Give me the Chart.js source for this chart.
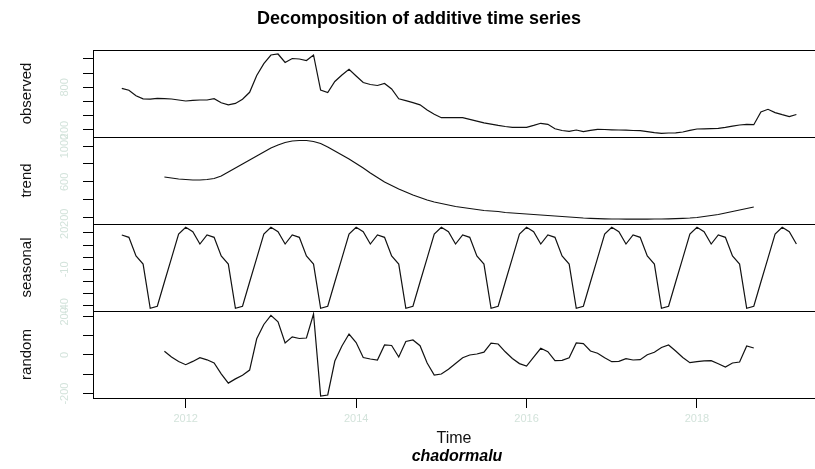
<!DOCTYPE html>
<html><head><meta charset="utf-8">
<script src="https://cdn.jsdelivr.net/npm/chart.js@4.4.0/dist/chart.umd.min.js"></script>
<style>html,body{margin:0;padding:0;background:#fff;overflow:hidden}</style>
</head><body>
<canvas id="c" width="815" height="469"></canvas>
<script>
// monthly series, April 2011 .. March 2019 (values in thousands)
const startYear = 2011, startMonth = 4;
const observed = [
787.3, 759.2, 681.7, 639.4, 635.2, 645.1, 640.8, 636.6, 622.5, 608.5, 616.9, 622.5,
622.5, 640.8, 583.1, 554.9, 574.6, 633.8, 731.0, 969.0, 1135.2, 1256.3, 1270.4, 1150.7,
1207.0, 1200.0, 1178.9, 1256.3, 763.4, 728.2, 883.1, 974.6, 1054.9, 960.6, 869.0, 840.8,
826.8, 854.9, 777.5, 639.4, 612.7, 584.5, 554.9, 481.7, 421.1, 373.2, 373.2, 373.2,
373.2, 349.3, 323.9, 300.0, 283.1, 264.8, 249.3, 238.0, 238.0, 238.0, 264.8, 294.4,
280.3, 216.9, 193.0, 181.7, 200.0, 176.1, 194.4, 209.9, 207.0, 202.8, 200.0, 197.2,
193.0, 190.1, 177.5, 163.4, 153.5, 157.7, 160.6, 171.8, 194.4, 214.1, 216.9, 219.7,
223.9, 236.6, 253.5, 270.4, 280.3, 274.6, 453.5, 491.6, 445.1, 415.5, 388.7, 418.3];
const trend = [
null, null, null, null, null, null, 654.7, 643.6, 632.4, 626.8, 621.2, 621.2,
626.8, 638.0, 665.9, 710.6, 755.3, 800.0, 844.7, 889.4, 934.1, 978.8, 1012.3, 1040.2,
1057.0, 1062.6, 1062.6, 1051.4, 1029.0, 989.9, 945.2, 900.5, 855.9, 805.6, 755.3, 699.4,
649.2, 598.9, 559.8, 520.7, 487.1, 453.6, 425.7, 397.8, 375.4, 358.7, 341.9, 325.1,
314.0, 302.8, 291.6, 280.4, 274.9, 269.3, 258.1, 252.5, 246.9, 241.3, 235.8, 230.2,
224.6, 219.0, 213.4, 207.8, 202.2, 196.6, 193.3, 189.9, 187.7, 185.5, 185.5, 183.2,
183.2, 183.2, 183.2, 185.5, 185.5, 187.7, 189.9, 193.3, 196.6, 202.2, 213.4, 224.6,
235.8, 252.5, 269.3, 286.0, 302.8, 319.6, null, null, null, null, null, null];
const seasonal = [
18.2, 16.3, 1.0, -5.6, -41.9, -40.2, -20.3, -0.7, 19.0, 24.5, 20.9, 10.8,
18.2, 16.3, 1.0, -5.6, -41.9, -40.2, -20.3, -0.7, 19.0, 24.5, 20.9, 10.8,
18.2, 16.3, 1.0, -5.6, -41.9, -40.2, -20.3, -0.7, 19.0, 24.5, 20.9, 10.8,
18.2, 16.3, 1.0, -5.6, -41.9, -40.2, -20.3, -0.7, 19.0, 24.5, 20.9, 10.8,
18.2, 16.3, 1.0, -5.6, -41.9, -40.2, -20.3, -0.7, 19.0, 24.5, 20.9, 10.8,
18.2, 16.3, 1.0, -5.6, -41.9, -40.2, -20.3, -0.7, 19.0, 24.5, 20.9, 10.8,
18.2, 16.3, 1.0, -5.6, -41.9, -40.2, -20.3, -0.7, 19.0, 24.5, 20.9, 10.8,
18.2, 16.3, 1.0, -5.6, -41.9, -40.2, -20.3, -0.7, 19.0, 24.5, 20.9, 10.8];
const random = [
null, null, null, null, null, null, 19.7, -10.4, -33.7, -50.3, -33.2, -13.5,
-24.9, -41.4, -97.4, -145.6, -123.8, -105.2, -78.2, 83.9, 158.0, 205.7, 172.0, 62.2,
93.8, 85.5, 88.1, 212.4, -212.4, -207.2, -31.1, 46.6, 108.8, 64.8, -13.0, -20.7,
-25.9, 51.8, 49.2, -10.4, 69.9, 77.7, 48.2, -41.4, -103.6, -98.4, -73.6, -44.0,
-14.5, 0.0, 5.2, 14.5, 61.1, 57.0, 16.6, -18.1, -44.6, -57.0, -10.4, 34.7,
17.1, -29.5, -27.5, -14.0, 62.2, 59.1, 20.7, 8.8, -14.5, -34.7, -33.2, -18.7,
-25.9, -24.4, 1.0, 14.5, 38.9, 51.8, 20.7, -13.0, -39.9, -34.7, -30.0, -29.0,
-45.1, -62.2, -41.4, -36.3, 46.6, 36.3, null, null, null, null, null, null];

const yearTicks = [2012, 2014, 2016, 2018];
const observedTicks = [200, 400, 600, 800, 1000, 1200];
const observedLabels = [200, 800];
const trendTicks = [200, 400, 600, 800, 1000];
const trendLabels = [200, 600, 1000];
const seasonalTicks = [-40, -30, -20, -10, 0, 10, 20];
const seasonalLabels = [-40, -10, 20];
const randomTicks = [-200, -100, 0, 100, 200];
const randomLabels = [-200, 0, 200];

const mainTitle = 'Decomposition of additive time series';
const subTitle = 'chadormalu';
const xTitle = 'Time';

const FAINT = '#d3e3db';
const FONT = '"Liberation Sans", Arial, Helvetica, sans-serif';
Chart.defaults.font.family = FONT;

function toXY(series) {
  const out = [];
  series.forEach((v, i) => {
    if (v !== null) out.push({x: startYear + (startMonth - 1 + i) / 12, y: v});
  });
  return out;
}

function ds(series, axis) {
  return {data: toXY(series), yAxisID: axis, borderColor: '#111', borderWidth: 1.2,
          pointRadius: 0, tension: 0, fill: false, spanGaps: false};
}

function yAxis(title, ticks, min, max, weight) {
  return {
    type: 'linear', position: 'left', stack: 'panels', stackWeight: 1, weight: weight,
    min: min, max: max,
    afterBuildTicks: s => { s.ticks = ticks.map(v => ({value: v})); },
    afterFit: s => { s.width = 93; },
    ticks: {display: false},
    grid: {drawOnChartArea: false, drawTicks: true, tickLength: 10, color: '#000', lineWidth: 1},
    border: {display: false},
    title: {display: true, text: title, color: '#111', font: {size: 15}, padding: {top: 18, bottom: 0}}
  };
}

const panels = [
  {id: 'yObs', labels: observedLabels},
  {id: 'yTrend', labels: trendLabels},
  {id: 'ySeas', labels: seasonalLabels},
  {id: 'yRand', labels: randomLabels}
];

const decor = {
  id: 'decor',
  afterDraw(chart) {
    const ctx = chart.ctx, ca = chart.chartArea;
    ctx.save();
    ctx.strokeStyle = '#000';
    ctx.lineWidth = 1;
    panels.forEach(p => {
      const s = chart.scales[p.id];
      ctx.strokeRect(Math.round(ca.left) + 0.5, Math.round(s.top) + 0.5, chart.width + 20, Math.round(s.bottom - s.top));
    });
    ctx.fillStyle = FAINT;
    ctx.font = '11px ' + FONT;
    ctx.textAlign = 'center';
    ctx.textBaseline = 'middle';
    panels.forEach(p => {
      const s = chart.scales[p.id];
      p.labels.forEach(v => {
        const y = s.getPixelForValue(v);
        ctx.save();
        ctx.translate(65, y);
        ctx.rotate(-Math.PI / 2);
        ctx.fillText(String(v), 0, 0);
        ctx.restore();
      });
    });
    ctx.fillStyle = '#000';
    ctx.font = 'bold 18px ' + FONT;
    ctx.fillText(mainTitle, 419, 19);
    ctx.font = 'italic bold 16px ' + FONT;
    ctx.fillText(subTitle, 457, 457);
    ctx.restore();
  }
};

new Chart(document.getElementById('c'), {
  type: 'line',
  data: {datasets: [ds(observed, 'yObs'), ds(trend, 'yTrend'), ds(seasonal, 'ySeas'), ds(random, 'yRand')]},
  options: {
    responsive: false, animation: false, devicePixelRatio: 1,
    layout: {padding: {top: 50, left: 0, right: 0, bottom: 0}},
    plugins: {legend: {display: false}, tooltip: {enabled: false}, title: {display: false}},
    scales: {
      x: {
        type: 'linear', min: 2010.912, max: 2019.385,
        afterBuildTicks: s => { s.ticks = yearTicks.map(v => ({value: v})); },
        afterFit: s => { s.height = 71; },
        ticks: {color: FAINT, font: {size: 11}, padding: 4, maxRotation: 0, autoSkip: false, callback: v => String(v)},
        grid: {drawOnChartArea: false, drawTicks: true, tickLength: 10, color: '#000', lineWidth: 1},
        border: {display: false},
        title: {display: true, text: xTitle, color: '#111', font: {size: 16}, padding: {top: 0, bottom: 21}}
      },
      yObs: yAxis('observed', observedTicks, 101.4, 1326.76, 4),
      yTrend: yAxis('trend', trendTicks, 129.61, 1101.66, 3),
      ySeas: yAxis('seasonal', seasonalTicks, -44.1, 27.214, 2),
      yRand: yAxis('random', randomTicks, -222.78, 227.96, 1)
    }
  },
  plugins: [decor]
});
</script>
</body></html>
